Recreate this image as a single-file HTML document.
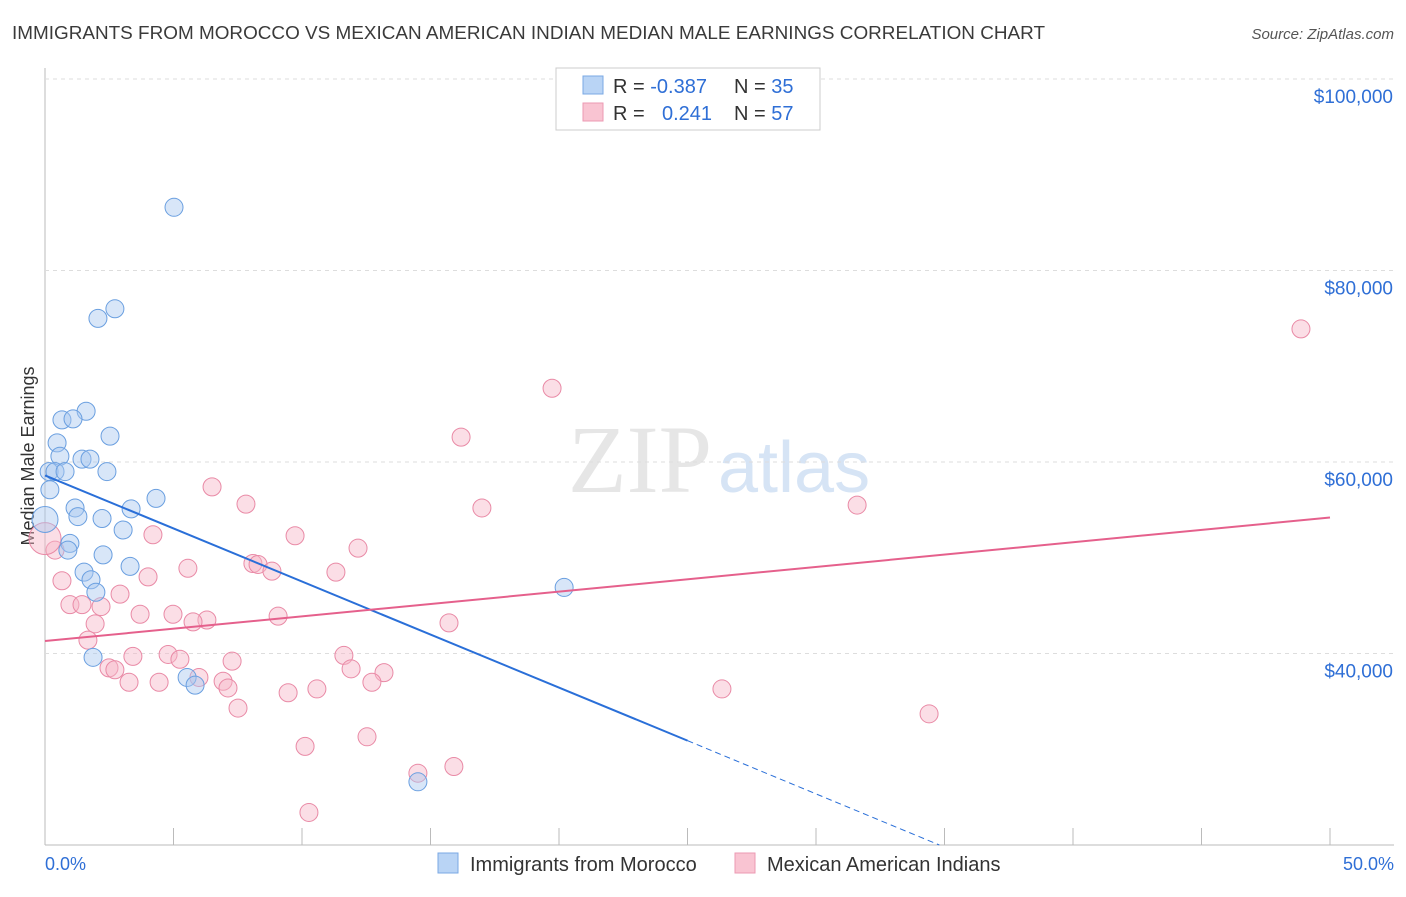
<!DOCTYPE html>
<html><head><meta charset="utf-8"><style>
body{margin:0;background:#fff;font-family:"Liberation Sans",sans-serif}
</style></head><body>
<svg id="c" width="1406" height="892" xmlns="http://www.w3.org/2000/svg">
<text x="12" y="39" font-size="18" fill="#3a3a3a" textLength="1033" lengthAdjust="spacingAndGlyphs">IMMIGRANTS FROM MOROCCO VS MEXICAN AMERICAN INDIAN MEDIAN MALE EARNINGS CORRELATION CHART</text>
<text x="1394" y="39" font-size="15" fill="#555" font-style="italic" text-anchor="end">Source: ZipAtlas.com</text>
<text x="712" y="492" font-size="96" fill="#e6e6e6" font-family="Liberation Serif" text-anchor="end">ZIP</text>
<text x="718" y="492" font-size="72" fill="#d6e4f5">atlas</text>
<text transform="translate(34,456) rotate(-90)" font-size="18" fill="#333" text-anchor="middle">Median Male Earnings</text>
<g id="grid"></g><g id="marks"></g>
<g>
<rect x="556" y="68" width="264" height="62" fill="#fff" stroke="#ccc"/>
<rect x="583" y="76" width="20" height="18" fill="#b9d4f5" stroke="#7aa8e4"/>
<rect x="583" y="103" width="20" height="18" fill="#f9c4d2" stroke="#ec9ab3"/>
<text x="613" y="93" font-size="20" fill="#333">R = <tspan fill="#2f6fd6">-0.387</tspan><tspan x="734">N = </tspan><tspan fill="#2f6fd6">35</tspan></text>
<text x="613" y="120" font-size="20" fill="#333">R = <tspan x="662" fill="#2f6fd6">0.241</tspan><tspan x="734">N = </tspan><tspan fill="#2f6fd6">57</tspan></text>
</g>
<g>
<rect x="438" y="853" width="20" height="20" fill="#b9d4f5" stroke="#7aa8e4"/>
<text x="470" y="871" font-size="20" fill="#333">Immigrants from Morocco</text>
<rect x="735" y="853" width="20" height="20" fill="#f9c4d2" stroke="#ec9ab3"/>
<text x="767" y="871" font-size="20" fill="#333">Mexican American Indians</text>
</g>
<text x="45" y="870" font-size="18" fill="#2f6fd6">0.0%</text>
<text x="1394" y="870" font-size="18" fill="#2f6fd6" text-anchor="end">50.0%</text>
</svg>
<script>
const yTicks=[100000,80000,60000,40000];
const yTickLabels=["$100,000","$80,000","$60,000","$40,000"];
const blueX=[5.02,2.72,2.06,1.60,0.66,1.09,2.53,0.47,0.58,1.44,1.75,2.41,0.16,0.39,0.78,0.19,4.32,1.17,1.28,2.22,3.35,3.04,0.97,0.89,2.26,3.31,1.52,1.79,1.98,1.87,5.53,5.84,20.2,14.51,0];
const blueY=[86.6,76.0,75.0,65.3,64.4,64.5,62.7,62.0,60.6,60.3,60.3,59.0,59.0,59.0,59.0,57.1,56.2,55.2,54.3,54.1,55.1,52.9,51.5,50.8,50.3,49.1,48.5,47.7,46.4,39.6,37.5,36.7,46.9,26.6,54.0];
const pinkX=[48.87,19.73,16.19,6.50,7.82,17.0,31.6,4.2,9.73,12.18,0.39,8.09,8.29,5.56,8.83,11.32,4.01,0.66,2.92,0.97,1.44,2.18,3.70,4.98,9.07,6.30,5.76,15.72,1.95,1.67,3.42,4.79,5.25,7.28,11.63,11.91,2.49,2.72,13.19,5.99,6.93,3.27,4.44,7.12,9.46,10.58,12.72,26.34,7.51,34.4,12.53,10.12,14.51,15.91,10.27,0];
const pinkY=[73.9,67.7,62.6,57.4,55.6,55.2,55.5,52.4,52.3,51.0,50.8,49.4,49.3,48.9,48.6,48.5,48.0,47.6,46.2,45.1,45.1,44.9,44.1,44.1,43.9,43.5,43.3,43.2,43.1,41.4,39.7,39.9,39.4,39.2,39.8,38.4,38.5,38.3,38.0,37.5,37.1,37.0,37.0,36.4,35.9,36.3,37.0,36.3,34.3,33.7,31.3,30.3,27.5,28.2,23.4,52.0];
const blueTrend=[[0,58.6],[25,30.9],[34.8,20.0]];
const pinkTrend=[[0,41.3],[50,54.2]];
const X=v=>45+v/50*1285;
const Y=v=>79+(100-v)/20*191.5;
const NS="http://www.w3.org/2000/svg";
const g=document.getElementById('grid'),m=document.getElementById('marks');
function el(t,a,p){const e=document.createElementNS(NS,t);for(const k in a)e.setAttribute(k,a[k]);p.appendChild(e);return e;}
const ax=el('line',{x1:45,y1:68,x2:45,y2:845,stroke:'#bbb'},g);


const bx=el('line',{x1:45,y1:845,x2:1394,y2:845,stroke:'#bbb'},g);


yTicks.forEach((t,i)=>{
 const l=el('line',{x1:45,x2:1394,y1:Y(t/1000),y2:Y(t/1000),stroke:'#ddd','stroke-dasharray':'4,4'},g);
 
 
 const tx=el('text',{x:1393,y:Y(t/1000)+24,'font-size':19,fill:'#2f6fd6','text-anchor':'end'},g);
 tx.textContent=yTickLabels[i];
 
 
});
for(let i=0;i<=10;i++){const tk=el('line',{x1:X(i*5),x2:X(i*5),y1:828,y2:845,stroke:'#bbb'},g);
 
 }
function dots(xs,ys,fill,stroke,name){xs.forEach((x,i)=>{
 const r=(x===0)?(name==='blue-point'?13:16):9;
 const c=el('circle',{cx:X(x),cy:Y(ys[i]),r:r,fill:fill,'fill-opacity':0.45,stroke:stroke,'stroke-width':1},m);
 
 
});}
dots(pinkX,pinkY,'#f7b6c8','#e98aa6','pink-point');
dots(blueX,blueY,'#a9c8f0','#6a9fe0','blue-point');
const b1=el('line',{x1:X(blueTrend[0][0]),y1:Y(blueTrend[0][1]),x2:X(blueTrend[1][0]),y2:Y(blueTrend[1][1]),stroke:'#2a6fd8','stroke-width':2},m);


const b2=el('line',{x1:X(blueTrend[1][0]),y1:Y(blueTrend[1][1]),x2:X(blueTrend[2][0]),y2:Y(blueTrend[2][1]),stroke:'#2a6fd8','stroke-width':1,'stroke-dasharray':'6,4'},m);


const p1=el('line',{x1:X(pinkTrend[0][0]),y1:Y(pinkTrend[0][1]),x2:X(pinkTrend[1][0]),y2:Y(pinkTrend[1][1]),stroke:'#e5608c','stroke-width':2},m);


</script>
</body></html>
